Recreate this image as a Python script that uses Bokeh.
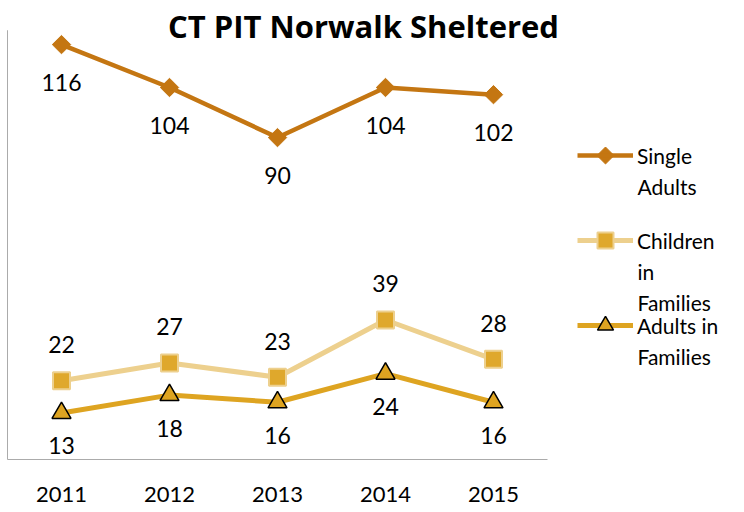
import numpy as np
from bokeh.plotting import figure
from bokeh.models import Range1d, ColumnDataSource, LabelSet, Label, Legend, LegendItem
from bokeh.embed import file_html
from bokeh.resources import INLINE
from bokeh.core.properties import value

# ---- data ----
years = ["2011", "2012", "2013", "2014", "2015"]
single_adults = [116, 104, 90, 104, 102]
children_in_families = [22, 27, 23, 39, 28]
adults_in_families = [13, 18, 16, 24, 16]
legend_lines = [["Single", "Adults"], ["Children", "in", "Families"], ["Adults in", "Families"]]
y_axis_max = 120

# ---- layout / style ----
W, H = 744, 512
PX_X = 108.0      # px per category
PX_Y = 3.577      # px per unit
X0 = 61.0         # screen x of first category
Y0 = 459.0        # screen y of value 0
FONT = "Lato"

C_SINGLE = "#C47612"
C_CHILD_LINE = "#EDD08E"
C_CHILD_MARK = "#DFA82C"
C_ADULT = "#DEA421"
AXIS_C = "#ABABAB"

xs = list(range(len(years)))

p = figure(width=W, height=H, output_backend="svg", toolbar_location=None,
           x_range=Range1d(-X0 / PX_X, (W - X0) / PX_X),
           y_range=Range1d(-(H - Y0) / PX_Y, Y0 / PX_Y),
           x_axis_type=None, y_axis_type=None, min_border=0)
p.grid.visible = False
p.outline_line_color = None
p.background_fill_color = "white"

# axis lines
p.segment(x0=[-0.5], y0=[0], x1=[-0.5], y1=[y_axis_max], line_color=AXIS_C, line_width=1)
p.segment(x0=[-0.5], y0=[0], x1=[len(years) - 0.5], y1=[0], line_color=AXIS_C, line_width=1)

# series
l1 = p.line(xs, single_adults, line_color=C_SINGLE, line_width=4.5)
m1 = p.scatter(xs, single_adults, marker="square", angle=np.pi / 4, size=13,
               fill_color=C_SINGLE, line_color=C_SINGLE)
l2 = p.line(xs, children_in_families, line_color=C_CHILD_LINE, line_width=5)
m2 = p.scatter(xs, children_in_families, marker="square", size=17,
               fill_color=C_CHILD_MARK, line_color=C_CHILD_LINE, line_width=2)
l3 = p.line(xs, adults_in_families, line_color=C_ADULT, line_width=5)
m3 = p.scatter(xs, adults_in_families, marker="triangle", size=19,
               fill_color=C_ADULT, line_color="black", line_width=1.5)

def add_labels(vals, off):
    src = ColumnDataSource(dict(x=xs, y=vals, t=[str(v) for v in vals]))
    p.add_layout(LabelSet(x="x", y="y", text="t", source=src, y_offset=off,
                          text_font=value(FONT), text_font_size="23px", text_color="black",
                          text_align="center", text_baseline="middle"))

add_labels(single_adults, -38)
add_labels(children_in_families, 36)
add_labels(adults_in_families, -33)

# year labels
ysrc = ColumnDataSource(dict(x=xs, y=[0] * len(xs), t=years))
p.add_layout(LabelSet(x="x", y="y", text="t", source=ysrc, y_offset=-35,
                      text_font=value(FONT), text_font_size="22px", text_color="black",
                      text_align="center", text_baseline="middle"))

# title
p.add_layout(Label(x=363, y=H - 25, x_units="screen", y_units="screen",
                   text="CT PIT Norwalk Sheltered", text_font="Open Sans",
                   text_font_style="bold", text_font_size="31px", text_color="black",
                   text_align="center", text_baseline="middle"))

# legends (first line as legend label, continuation lines as labels)
LEG_X = 577
GLYPH_W = 56
TXT_X = 637
LINE_H = 31
def add_legend(lines, rends, center_y):
    lg = Legend(items=[LegendItem(label=lines[0], renderers=rends)],
                location=(LEG_X, H - center_y - 20),
                glyph_width=GLYPH_W, glyph_height=40, label_standoff=4, padding=0, margin=0,
                spacing=0, border_line_color=None, background_fill_alpha=0,
                label_text_font=FONT, label_text_font_size="21px", label_text_color="black")
    p.add_layout(lg)
    for i, t in enumerate(lines[1:], start=1):
        p.add_layout(Label(x=TXT_X, y=H - center_y - i * LINE_H, x_units="screen",
                           y_units="screen", text=t, text_font=FONT,
                           text_font_size="21px", text_color="black",
                           text_align="left", text_baseline="middle"))

LEG_Y = [155, 240, 325]
add_legend(legend_lines[0], [l1], LEG_Y[0])
add_legend(legend_lines[1], [l2, m2], LEG_Y[1])
add_legend(legend_lines[2], [l3, m3], LEG_Y[2])

# legend key marker for the diamond series (legend glyphs cannot be rotated)
p.scatter(x=[(LEG_X + GLYPH_W / 2 - X0) / PX_X], y=[(Y0 - LEG_Y[0]) / PX_Y],
          marker="square", angle=np.pi / 4, size=12,
          fill_color=C_SINGLE, line_color=C_SINGLE)

open("out.html", "w").write(file_html(p, INLINE))
